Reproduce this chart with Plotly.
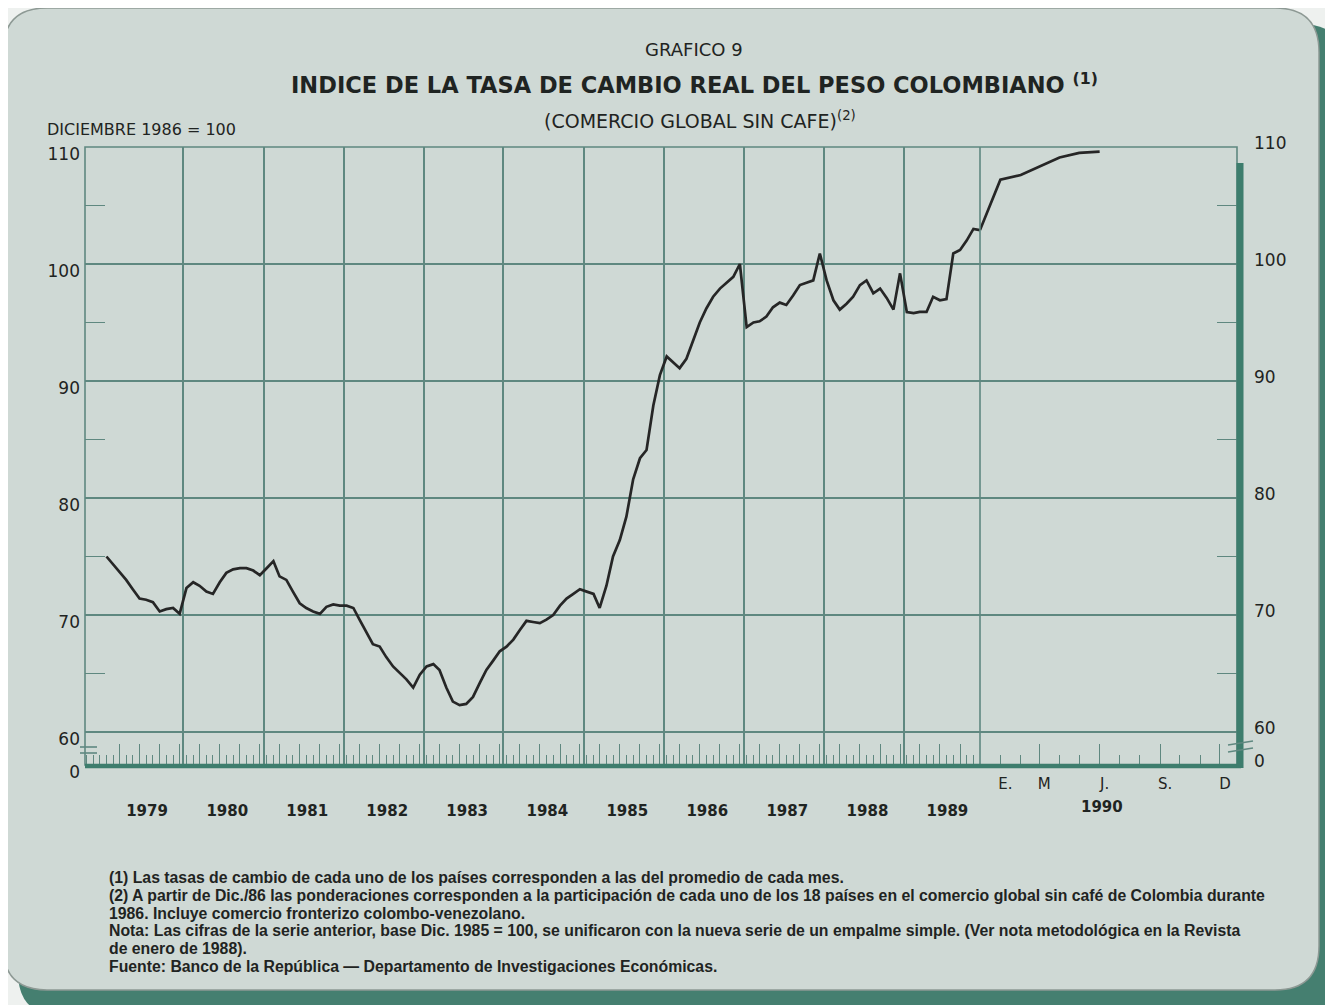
import plotly.graph_objects as go

W, H = 1333, 1005

# ---------------- data (index, Dec 1986 = 100) ----------------
years = [1979, 1980, 1981, 1982, 1983, 1984, 1985, 1986, 1987, 1988, 1989]
v1979 = [75.0, 74.3, 73.7, 73.0, 72.2, 71.4, 71.3, 71.1, 70.3, 70.5, 70.6, 70.1]
v1980 = [72.3, 72.8, 72.5, 72.0, 71.8, 72.8, 73.6, 73.9, 74.0, 74.0, 73.8, 73.4]
v1981 = [74.0, 74.6, 73.3, 73.0, 72.0, 71.0, 70.6, 70.3, 70.1, 70.7, 70.9, 70.8]
v1982 = [70.8, 70.6, 69.6, 68.5, 67.5, 67.3, 66.4, 65.6, 65.0, 64.5, 63.8, 64.9]
v1983 = [65.6, 65.8, 65.3, 63.8, 62.6, 62.3, 62.4, 63.0, 64.2, 65.3, 66.1, 66.9]
v1984 = [67.3, 67.9, 68.7, 69.5, 69.4, 69.3, 69.6, 70.0, 70.8, 71.4, 71.8, 72.2]
v1985 = [72.0, 71.8, 70.6, 72.5, 75.0, 76.4, 78.4, 81.6, 83.4, 84.1, 87.9, 90.5]
v1986 = [92.1, 91.6, 91.1, 91.9, 93.4, 95.0, 96.2, 97.2, 97.9, 98.4, 98.9, 100.0]
v1987 = [94.6, 95.0, 95.1, 95.5, 96.3, 96.7, 96.5, 97.3, 98.2, 98.4, 98.6, 100.9]
v1988 = [98.6, 96.9, 96.1, 96.6, 97.2, 98.2, 98.6, 97.5, 97.9, 97.1, 96.1, 99.2]
v1989 = [95.9, 95.8, 95.9, 95.9, 97.2, 96.9, 97.0, 100.9, 101.2, 102.0, 103.0, 102.9]
v1990 = [107.2, 107.6, 108.3, 109.1, 109.5, 109.6]   # enero - junio 1990

year_values = [v1979, v1980, v1981, v1982, v1983, v1984, v1985, v1986, v1987, v1988, v1989]

month_labels_1990 = ["E.", "M", "J.", "S.", "D"]
month_label_months = [1, 3, 6, 9, 12]
y_tick_vals = [60, 70, 80, 90, 100, 110]
y_minor_vals = [65, 75, 85, 95, 105]

footnotes = [
    "(1) Las tasas de cambio de cada uno de los países corresponden a las del promedio de cada mes.",
    "(2) A partir de Dic./86 las ponderaciones corresponden a la participación de cada uno de los 18 países en el comercio global sin café de Colombia durante",
    "1986. Incluye comercio fronterizo colombo-venezolano.",
    "Nota: Las cifras de la serie anterior, base Dic. 1985 = 100, se unificaron con la nueva serie de un empalme simple. (Ver nota metodológica en la Revista",
    "de enero de 1988).",
    "Fuente: Banco de la República — Departamento de Investigaciones Económicas.",
]

# ---------------- derived series ----------------
seg1_x = [f"{y}-{m:02d}-15" for y in years for m in range(1, 13)]
seg1_y = [v for vals in year_values for v in vals]
seg2_x = ["1989-12-15"] + [f"1990-{m:02d}-15" for m in range(1, len(v1990) + 1)]
seg2_y = [v1989[-1]] + v1990

# ---------------- geometry / style ----------------
OX, OY = 8, 8  # page body margin


def px(x):
    return (x - OX) / W


def py(y):
    return 1 - (y - OY) / H


PL, PR, PT, PB, XB = 85, 1237, 147, 765, 980
Y_MIN = 60 - (PB - 732) / ((732 - PT) / 50.0)
Y_MAX = 110

GRID = "#5f8880"
TEAL = "#3d7d6d"
PANEL = "#cfd9d5"
PLOTBG = "#fbfbf7"
INK = "#1f2422"
LINE = "#262626"
NUM_FONT = "DejaVu Sans, Liberation Sans, sans-serif"
TITLE_FONT = "DejaVu Sans, Liberation Sans, sans-serif"

fig = go.Figure()
fig.add_trace(go.Scatter(x=seg1_x, y=seg1_y, xaxis="x", yaxis="y", mode="lines",
                         line=dict(color=LINE, width=2.7), showlegend=False, hoverinfo="skip"))
fig.add_trace(go.Scatter(x=seg2_x, y=seg2_y, xaxis="x2", yaxis="y2", mode="lines",
                         line=dict(color=LINE, width=2.7), showlegend=False, hoverinfo="skip"))
# transparent copies so that the overlaid tick / label axes get drawn
for xa, xs, ys, ya in (("x3", seg1_x, seg1_y, "y"), ("x5", seg1_x, seg1_y, "y"),
                       ("x4", seg2_x, seg2_y, "y2")):
    fig.add_trace(go.Scatter(x=xs, y=ys, xaxis=xa, yaxis=ya, mode="lines", opacity=0,
                             line=dict(width=0.1, color=LINE), showlegend=False,
                             hoverinfo="skip"))

seg1_range = ["1978-10-09", "1989-12-15"]
seg2_range = ["1989-12-15", "1991-01-10"]
d1 = [px(PL), px(XB)]
d2 = [px(XB), px(PR)]
dy = [py(PB), py(PT)]

quarter_ticks_1 = [f"{y}-{m:02d}-15" for y in years for m in (3, 6, 9, 12)]
quarter_ticks_2 = [f"1990-{m:02d}-15" for m in (3, 6, 9, 12)]

common_x = dict(zeroline=False, showline=False, automargin=False, fixedrange=True)
layout = dict(
    template="none",
    width=W, height=H, autosize=False,
    margin=dict(l=0, r=0, t=0, b=0, pad=0),
    paper_bgcolor="#eef1ef", plot_bgcolor=PLOTBG,
    showlegend=False,
    xaxis=dict(domain=d1, range=seg1_range, type="date", anchor="y",
               tickmode="array", tickvals=[f"{y}-01-01" for y in years[1:]],
               showticklabels=False, ticks="", showgrid=True, gridcolor=GRID, gridwidth=1.6,
               **common_x),
    xaxis3=dict(overlaying="x", anchor="y", domain=d1, range=seg1_range, type="date",
                tickmode="array", tickvals=quarter_ticks_1, ticks="inside", ticklen=21,
                tickwidth=1.3, tickcolor=GRID, showticklabels=False, showgrid=False,
                minor=dict(tickmode="linear", tick0="1979-01-15", dtick="M1", ticks="inside",
                           ticklen=10, tickwidth=1.2, tickcolor=GRID, showgrid=False),
                **common_x),
    xaxis5=dict(overlaying="x", anchor="y", domain=d1, range=seg1_range, type="date",
                tickmode="array", tickvals=[f"{y}-07-01" for y in years],
                ticktext=[str(y) for y in years], ticks="", showgrid=False,
                tickfont=dict(family=NUM_FONT, size=15, color=INK, weight="bold"),
                ticklabelstandoff=35, ticklabelshift=4, **common_x),
    xaxis2=dict(domain=d2, range=seg2_range, type="date", anchor="y2",
                tickmode="array", tickvals=[f"1990-{m:02d}-15" for m in month_label_months],
                ticktext=month_labels_1990, ticks="", showgrid=False,
                tickfont=dict(family=NUM_FONT, size=15, color=INK),
                ticklabelstandoff=8, ticklabelshift=5, **common_x),
    xaxis4=dict(overlaying="x2", anchor="y2", domain=d2, range=seg2_range, type="date",
                tickmode="array", tickvals=quarter_ticks_2, ticks="inside", ticklen=21,
                tickwidth=1.3, tickcolor=GRID, showticklabels=False, showgrid=False,
                minor=dict(tickmode="linear", tick0="1990-01-15", dtick="M1", ticks="inside",
                           ticklen=10, tickwidth=1.2, tickcolor=GRID, showgrid=False),
                **common_x),
    yaxis=dict(domain=dy, range=[Y_MIN, Y_MAX], anchor="x", side="left",
               tickmode="array", tickvals=[Y_MIN] + y_tick_vals,
               ticktext=["0"] + [str(v) for v in y_tick_vals],
               ticks="", showgrid=True, gridcolor=GRID, gridwidth=1.6,
               tickfont=dict(family=NUM_FONT, size=17, color=INK),
               ticklabelshift=7, ticklabelstandoff=4,
               minor=dict(tickmode="array", tickvals=y_minor_vals, ticks="inside",
                          ticklen=20, tickwidth=1.4, tickcolor=GRID, showgrid=False),
               **common_x),
    yaxis2=dict(domain=dy, range=[Y_MIN, Y_MAX], anchor="x2", side="right",
                tickmode="array", tickvals=[Y_MIN] + y_tick_vals,
                ticktext=["0"] + [str(v) for v in y_tick_vals],
                ticks="", showgrid=True, gridcolor=GRID, gridwidth=1.6,
                tickfont=dict(family=NUM_FONT, size=17, color=INK),
                ticklabelshift=-4, ticklabelstandoff=16,
                minor=dict(tickmode="array", tickvals=y_minor_vals, ticks="inside",
                           ticklen=20, tickwidth=1.4, tickcolor=GRID, showgrid=False),
                **common_x),
)
fig.update_layout(**layout)


def rounded_path(x0, y0, x1, y1, r):
    X0, X1 = px(x0), px(x1)
    Y0, Y1 = py(y0), py(y1)
    rx, ry = r / W, r / H
    return (f"M {X0 + rx},{Y0} L {X1 - rx},{Y0} Q {X1},{Y0} {X1},{Y0 - ry} "
            f"L {X1},{Y1 + ry} Q {X1},{Y1} {X1 - rx},{Y1} L {X0 + rx},{Y1} "
            f"Q {X0},{Y1} {X0},{Y1 + ry} L {X0},{Y0 - ry} Q {X0},{Y0} {X0 + rx},{Y0} Z")


def hline(x0, x1, y0, y1, color, width):
    return dict(type="line", xref="paper", yref="paper", layer="above",
                x0=px(x0), x1=px(x1), y0=py(y0), y1=py(y1), line=dict(color=color, width=width))


shapes = [
    # panel shadow and panel
    dict(type="path", xref="paper", yref="paper", layer="below",
         path=rounded_path(18, 24, 1345, 1016, 44), fillcolor="#457f70", line=dict(width=0)),
    dict(type="path", xref="paper", yref="paper", layer="below",
         path=rounded_path(3, 8, 1319, 990, 44), fillcolor=PANEL,
         line=dict(color="#8d9994", width=1.5)),
    # plot frame
    dict(type="rect", xref="paper", yref="paper", layer="above",
         x0=px(PL), x1=px(PR), y0=py(PB), y1=py(PT), line=dict(color=GRID, width=1.6)),
    hline(XB, XB, PB, PT, GRID, 1.6),
    # heavy bottom axis and right edge
    hline(PL, PR + 4, PB + 1, PB + 1, TEAL, 4.5),
    hline(PR + 3, PR + 3, PB + 3, 163, TEAL, 7),
    # axis break marks
    hline(80, 97, 747, 747, GRID, 1.6),
    hline(80, 97, 753, 753, GRID, 1.6),
    hline(1228, 1253, 745, 741, GRID, 1.6),
    hline(1228, 1253, 752, 748, GRID, 1.6),
]
fig.update_layout(shapes=shapes)

ann = [
    dict(text="GRAFICO 9", x=px(694), y=py(50), xanchor="center", yanchor="middle",
         font=dict(family=TITLE_FONT, size=18, color=INK)),
    dict(text="<b>INDICE DE LA TASA DE CAMBIO REAL DEL PESO COLOMBIANO <sup>(1)</sup></b>",
         x=px(694), y=py(84), xanchor="center", yanchor="middle",
         font=dict(family=TITLE_FONT, size=22.5, color=INK)),
    dict(text="(COMERCIO GLOBAL SIN CAFE)<sup>(2)</sup>", x=px(700), y=py(120),
         xanchor="center", yanchor="middle", font=dict(family=TITLE_FONT, size=19, color=INK)),
    dict(text="DICIEMBRE 1986 = 100", x=px(45), y=py(130), xanchor="left", yanchor="middle",
         font=dict(family=TITLE_FONT, size=16, color=INK)),
    dict(text="1990", xref="x2", x="1990-06-15", y=py(807), xshift=2, xanchor="center",
         yanchor="middle", font=dict(family=NUM_FONT, size=15, color=INK, weight="bold")),
]
foot_y = [877, 895, 913, 930, 948, 966]
for txt, yy in zip(footnotes, foot_y):
    ann.append(dict(text=txt, x=px(107), y=py(yy), xanchor="left", yanchor="middle",
                    font=dict(family="Liberation Sans, Arial, sans-serif", size=15.8,
                              color=INK, weight="bold")))
for a in ann:
    a.setdefault("xref", "paper")
    a["yref"] = "paper"
    a["showarrow"] = False
fig.update_layout(annotations=ann)

fig.write_html("out.html")
